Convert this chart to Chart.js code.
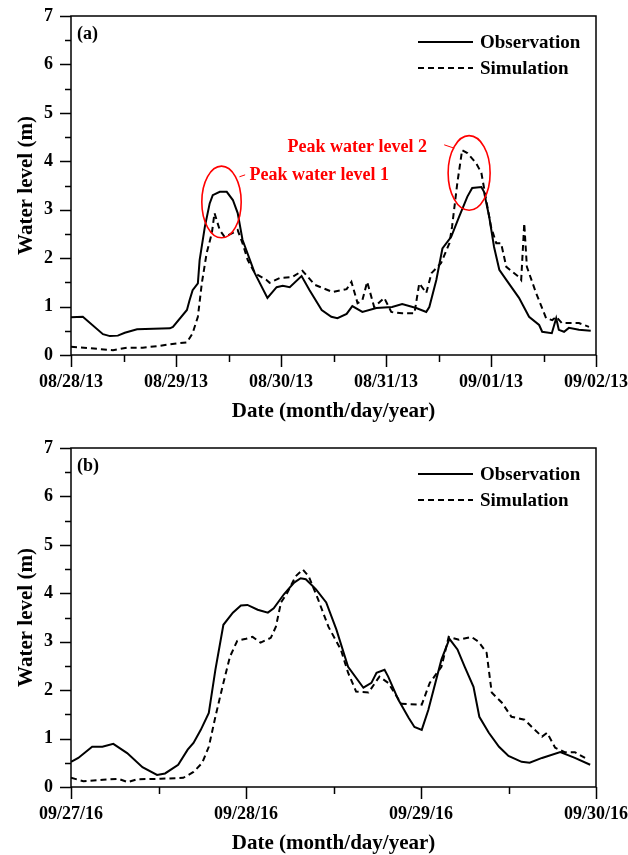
<!DOCTYPE html>
<html>
<head>
<meta charset="utf-8">
<script src="https://cdn.jsdelivr.net/npm/chart.js@4"></script>
<style>
  html, body { margin: 0; padding: 0; background: #fff; width: 628px; height: 855px; overflow: hidden; }
  canvas { position: absolute; left: 0; }
  #chartA { top: 0; }
  #chartB { top: 432px; }
</style>
</head>
<body>
<canvas id="chartA" width="628" height="430"></canvas>
<canvas id="chartB" width="628" height="430"></canvas>
<script>
// ---- (a) 2013 event, hours since 08/28/13 00:00 ----
const tickLabelsA = ["08/28/13", "08/29/13", "08/30/13", "08/31/13", "09/01/13", "09/02/13"];
const obsHoursA = [0, 2.7, 7.3, 8.9, 10.7, 12.3, 15.1, 22.6, 23.3, 26.5, 27.1, 27.8, 29.0, 29.4, 30.6, 31.7, 32.4, 34.0, 35.6, 37.0,
  38.1, 39.2, 42.0, 44.9, 47.0, 48.4, 50.0, 52.7, 54.5, 57.3, 59.5, 60.9, 63.0, 64.3, 66.6, 69.8, 73.4, 75.7, 78.9, 81.2,
  81.9, 83.5, 84.9, 86.9, 88.7, 90.6, 91.7, 93.8, 94.4, 95.6, 96.7, 97.9, 99.5, 102.4, 104.7, 107.0, 107.7, 109.9, 110.9, 111.5,
  112.7, 113.8, 116.1, 118.8];
const obsLevelA = [0.78, 0.79, 0.43, 0.39, 0.40, 0.46, 0.53, 0.55, 0.58, 0.93, 1.13, 1.34, 1.48, 1.96, 2.65, 3.13, 3.30, 3.37, 3.37, 3.20,
  2.93, 2.38, 1.69, 1.18, 1.40, 1.43, 1.40, 1.63, 1.34, 0.93, 0.79, 0.76, 0.85, 1.01, 0.89, 0.97, 0.99, 1.05, 0.97, 0.89,
  0.99, 1.55, 2.20, 2.44, 2.85, 3.27, 3.45, 3.47, 3.37, 2.85, 2.23, 1.76, 1.55, 1.18, 0.79, 0.62, 0.48, 0.45, 0.76, 0.52,
  0.48, 0.56, 0.52, 0.50];
const simHoursA = [0, 4.3, 9.6, 12.8, 16.4, 20.3, 24.2, 26.5, 27.8, 29.0, 29.9, 31.0, 32.2, 32.8, 34.0, 35.1, 37.0, 38.1, 39.2, 40.4,
  42.0, 44.7, 45.4, 47.7, 50.6, 52.9, 55.7, 59.8, 63.0, 64.1, 65.5, 66.6, 67.7, 69.3, 71.6, 73.2, 75.7, 78.5, 79.6, 81.2,
  82.4, 84.6, 86.5, 87.1, 88.3, 89.4, 90.6, 92.6, 93.8, 94.9, 96.0, 97.2, 98.3, 99.5, 102.4, 102.9, 103.6, 104.2, 106.3, 108.6,
  110.0, 110.9, 112.2, 116.1, 118.4];
const simLevelA = [0.17, 0.14, 0.10, 0.15, 0.15, 0.19, 0.24, 0.26, 0.45, 0.79, 1.48, 2.10, 2.52, 2.93, 2.58, 2.44, 2.52, 2.58, 2.31, 1.96,
  1.69, 1.55, 1.49, 1.59, 1.61, 1.74, 1.45, 1.30, 1.36, 1.51, 1.07, 1.13, 1.51, 0.99, 1.18, 0.89, 0.86, 0.86, 1.48, 1.28,
  1.69, 1.90, 2.31, 2.65, 3.55, 4.23, 4.17, 3.96, 3.76, 3.20, 2.65, 2.31, 2.31, 1.82, 1.61, 1.55, 2.72, 1.82, 1.28, 0.76,
  0.72, 0.79, 0.66, 0.66, 0.58];

// ---- (b) 2016 event, hours since 09/27/16 00:00 ----
const tickLabelsB = ["09/27/16", "09/28/16", "09/29/16", "09/30/16"];
const obsHoursB = [0, 1.0, 2.9, 4.3, 5.8, 7.7, 9.8, 11.8, 12.9, 14.7, 16.0, 16.8, 17.8, 18.9, 19.8, 20.9, 22.2, 23.3, 24.2, 25.6,
  27.0, 27.8, 29.2, 30.6, 31.5, 32.2, 33.6, 35.0, 36.4, 38.0, 40.1, 41.2, 41.9, 43.0, 43.5, 44.9, 46.3, 47.1, 48.1, 49.0,
  50.8, 51.9, 53.0, 54.0, 55.2, 56.0, 57.3, 58.7, 60.0, 61.8, 62.9, 64.6, 67.1, 69.1, 71.2];
const obsLevelB = [0.52, 0.60, 0.83, 0.83, 0.89, 0.70, 0.41, 0.25, 0.28, 0.46, 0.77, 0.91, 1.18, 1.53, 2.42, 3.35, 3.60, 3.75, 3.76, 3.66,
  3.60, 3.69, 3.98, 4.22, 4.31, 4.29, 4.08, 3.81, 3.25, 2.48, 2.05, 2.15, 2.36, 2.42, 2.28, 1.80, 1.43, 1.24, 1.18, 1.59,
  2.63, 3.06, 2.84, 2.48, 2.07, 1.45, 1.12, 0.83, 0.64, 0.52, 0.50, 0.60, 0.72, 0.60, 0.46];
const simHoursB = [0, 1.7, 4.4, 6.5, 7.8, 9.1, 12.3, 15.4, 16.8, 18.0, 18.9, 19.8, 20.9, 21.8, 22.8, 24.0, 24.9, 26.0, 27.4, 28.1,
  28.8, 29.7, 30.8, 31.8, 32.6, 33.9, 35.3, 37.0, 38.0, 39.1, 40.8, 42.3, 43.5, 45.3, 48.1, 49.2, 50.8, 51.8, 53.2, 54.9,
  55.9, 57.0, 57.7, 59.1, 60.4, 62.2, 63.2, 64.6, 65.3, 66.4, 67.7, 69.1, 70.5];
const simLevelB = [0.19, 0.12, 0.15, 0.17, 0.10, 0.16, 0.17, 0.19, 0.31, 0.50, 0.83, 1.45, 2.15, 2.69, 3.02, 3.06, 3.10, 2.98, 3.08, 3.31,
  3.81, 4.02, 4.35, 4.49, 4.35, 3.87, 3.31, 2.84, 2.36, 1.97, 1.95, 2.28, 2.15, 1.72, 1.70, 2.15, 2.48, 3.10, 3.04, 3.10,
  3.00, 2.77, 1.95, 1.74, 1.45, 1.39, 1.24, 1.04, 1.12, 0.81, 0.72, 0.72, 0.60];

// red annotations on panel (a)
const peakNames = ["Peak water level 1", "Peak water level 2"];

const FONT = '"Liberation Serif", "Times New Roman", serif';

function toPoints(xs, ys) {
    return xs.map((h, i) => ({ x: h, y: ys[i] }));
}

const decorPlugin = {
    id: "decor",
    afterDraw(chart, args, opts) {
        const { ctx, chartArea: a, scales: { x, y } } = chart;
        ctx.save();
        ctx.strokeStyle = "#000";
        ctx.lineWidth = 1.5;
        ctx.strokeRect(a.left, a.top, a.right - a.left, a.bottom - a.top);

        // major / minor tick marks, outside the frame
        ctx.beginPath();
        for (let v = 0; v <= y.max + 1e-6; v += 0.5) {
            let py = Math.round(y.getPixelForValue(v)) + 0.5;
            let len = v % 1 === 0 ? 11 : 6;
            ctx.moveTo(a.left - len, py);
            ctx.lineTo(a.left, py);
        }
        for (let h = 0; h <= x.max + 1e-6; h += 12) {
            let px = Math.round(x.getPixelForValue(h)) + 0.5;
            let len = h % 24 === 0 ? 12 : 7;
            ctx.moveTo(px, a.bottom);
            ctx.lineTo(px, a.bottom + len);
        }
        ctx.stroke();

        // panel label
        ctx.fillStyle = "#000";
        ctx.font = "bold 18px " + FONT;
        ctx.textBaseline = "middle";
        ctx.textAlign = "left";
        ctx.fillText(opts.panel, a.left + 6, a.top + 18);

        // legend
        ctx.font = "bold 19px " + FONT;
        let lx0 = a.right - 178, lx1 = a.right - 123;
        let rows = [{ name: "Observation", dash: [], dy: 26 }, { name: "Simulation", dash: [6, 4], dy: 52 }];
        rows.forEach(r => {
            ctx.beginPath();
            ctx.setLineDash(r.dash);
            ctx.lineWidth = 2;
            ctx.moveTo(lx0, a.top + r.dy);
            ctx.lineTo(lx1, a.top + r.dy);
            ctx.stroke();
            ctx.setLineDash([]);
            ctx.fillText(r.name, a.right - 116, a.top + r.dy + 1);
        });

        // peak annotations (data units)
        if (opts.peaks) {
            ctx.strokeStyle = "#ff0000";
            ctx.fillStyle = "#ff0000";
            ctx.font = "bold 18px " + FONT;
            opts.peaks.forEach(p => {
                let cx = x.getPixelForValue(p.cx), cy = y.getPixelForValue(p.cy);
                let rx = x.getPixelForValue(p.cx + p.rx) - cx;
                let ry = cy - y.getPixelForValue(p.cy + p.ry);
                ctx.lineWidth = 1.6;
                ctx.beginPath();
                ctx.ellipse(cx, cy, rx, ry, 0, 0, Math.PI * 2);
                ctx.stroke();
                ctx.lineWidth = 1;
                ctx.beginPath();
                ctx.moveTo(x.getPixelForValue(p.l0[0]), y.getPixelForValue(p.l0[1]));
                ctx.lineTo(x.getPixelForValue(p.l1[0]), y.getPixelForValue(p.l1[1]));
                ctx.stroke();
                ctx.fillText(p.text, x.getPixelForValue(p.tx), y.getPixelForValue(p.ty));
            });
        }
        ctx.restore();
    }
};

function makeChart(canvasId, obsH, obsV, simH, simV, tickLabels, panel, peaks) {
    let maxHours = (tickLabels.length - 1) * 24;
    let ctx = document.getElementById(canvasId).getContext("2d");
    return new Chart(ctx, {
        type: "line",
        data: {
            datasets: [
                { label: "Observation", data: toPoints(obsH, obsV), borderColor: "#000", borderWidth: 2, pointRadius: 0, tension: 0 },
                { label: "Simulation", data: toPoints(simH, simV), borderColor: "#000", borderWidth: 2, borderDash: [6, 4], pointRadius: 0, tension: 0 }
            ]
        },
        options: {
            responsive: false,
            animation: false,
            devicePixelRatio: 1,
            layout: { padding: { top: 16, right: 32, left: 0, bottom: 0 } },
            plugins: {
                legend: { display: false },
                tooltip: { enabled: false },
                decor: { panel: panel, peaks: peaks }
            },
            scales: {
                x: {
                    type: "linear",
                    min: 0,
                    max: maxHours,
                    grid: { display: true, drawOnChartArea: false, drawTicks: true, tickLength: 12, color: "rgba(0,0,0,0)" },
                    border: { display: false },
                    ticks: {
                        stepSize: 24,
                        autoSkip: false,
                        maxRotation: 0,
                        padding: 5,
                        color: "#000",
                        font: { family: FONT, size: 18, weight: "bold" },
                        callback: (v) => tickLabels[Math.round(v / 24)]
                    },
                    title: {
                        display: true,
                        text: "Date (month/day/year)",
                        color: "#000",
                        font: { family: FONT, size: 21, weight: "bold" },
                        padding: { top: 0, bottom: 6 }
                    },
                    afterFit: (scale) => { scale.height = 75; scale.paddingLeft = 0; scale.paddingRight = 0; }
                },
                y: {
                    min: 0,
                    max: 7,
                    grid: { display: true, drawOnChartArea: false, drawTicks: true, tickLength: 11, color: "rgba(0,0,0,0)" },
                    border: { display: false },
                    ticks: {
                        stepSize: 1,
                        padding: 7,
                        color: "#000",
                        font: { family: FONT, size: 18, weight: "bold" }
                    },
                    title: {
                        display: true,
                        text: "Water level (m)",
                        color: "#000",
                        font: { family: FONT, size: 21, weight: "bold" },
                        padding: { top: 14, bottom: 0 }
                    },
                    afterFit: (scale) => { scale.width = 71; scale.paddingTop = 0; scale.paddingBottom = 0; }
                }
            }
        },
        plugins: [decorPlugin]
    });
}

makeChart("chartA", obsHoursA, obsLevelA, simHoursA, simLevelA, tickLabelsA, "(a)", [
    { text: peakNames[0], cx: 34.4, cy: 3.16, rx: 4.5, ry: 0.74, tx: 40.8, ty: 3.72, l0: [38.5, 3.68], l1: [39.8, 3.72] },
    { text: peakNames[1], cx: 91.0, cy: 3.76, rx: 4.8, ry: 0.77, tx: 49.5, ty: 4.29, l0: [85.3, 4.34], l1: [87.6, 4.27] }
]);
makeChart("chartB", obsHoursB, obsLevelB, simHoursB, simLevelB, tickLabelsB, "(b)", null);
</script>
</body>
</html>
